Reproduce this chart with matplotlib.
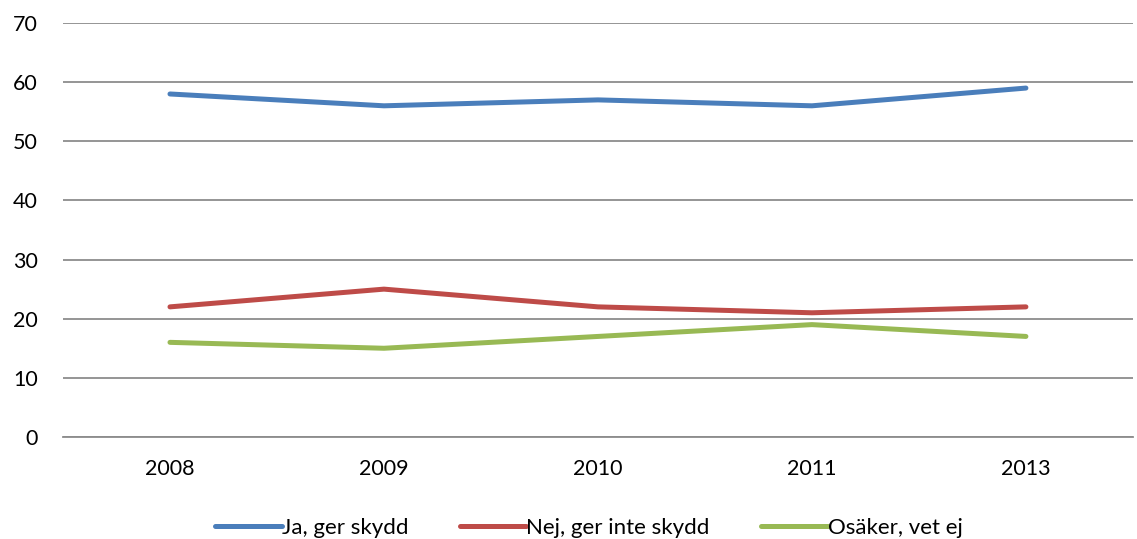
import matplotlib
matplotlib.use("Agg")
import matplotlib.pyplot as plt

years = ["2008", "2009", "2010", "2011", "2013"]
ja = [58, 56, 57, 56, 59]
nej = [22, 25, 22, 21, 22]
osaker = [16, 15, 17, 19, 17]
labels = ["Ja, ger skydd", "Nej, ger inte skydd", "Osäker, vet ej"]
colors = ["#4A7EBB", "#BE4B48", "#98B954"]

plt.rcParams['font.family'] = ['Lato', 'DejaVu Sans']

fig = plt.figure(figsize=(11.37, 5.39), dpi=100)
ax = fig.add_axes([0.0554, 0.1893, 0.941, 0.768])

x = list(range(len(years)))
for vals, lab, c in zip([ja, nej, osaker], labels, colors):
    ax.plot(x, vals, color=c, lw=3.6, label=lab, solid_capstyle='round', zorder=3)

ax.set_xlim(-0.5, len(years) - 0.5)
ax.set_ylim(0, 70)
ax.set_yticks(range(0, 71, 10))
ax.set_xticks(x)
ax.set_xticklabels(years)
ax.yaxis.grid(True, color="#8C8C8C", lw=1.3)
ax.set_axisbelow(True)
for s in ["top", "right", "left"]:
    ax.spines[s].set_visible(False)
ax.spines["bottom"].set_color("#8C8C8C")
ax.spines["bottom"].set_linewidth(1.3)
ax.tick_params(axis='both', length=0, labelsize=15.5, colors="black")
ax.tick_params(axis='y', pad=18)
ax.tick_params(axis='x', pad=16)

fig.legend(loc='lower center', bbox_to_anchor=(0.518, -0.035), ncol=3, frameon=False,
           fontsize=16, handlelength=3.0, handletextpad=0.0, columnspacing=2.3)

fig.savefig("out.png", dpi=100)
